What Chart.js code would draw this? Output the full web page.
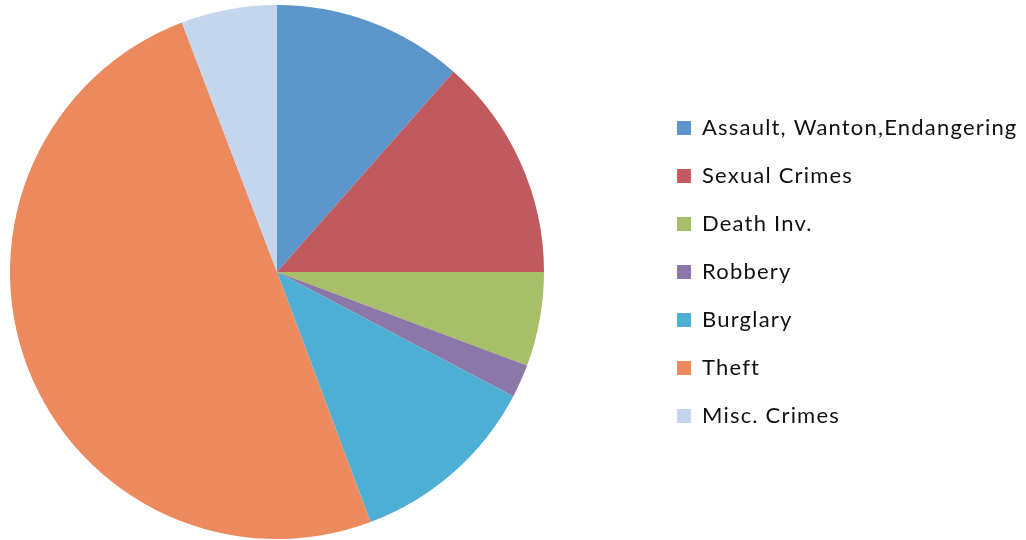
<!DOCTYPE html>
<html>
<head>
<meta charset="utf-8">
<script src="https://cdn.jsdelivr.net/npm/chart.js@4.4.1/dist/chart.umd.min.js"></script>
<style>
  html, body { margin: 0; padding: 0; background: #ffffff; }
  #wrap { width: 1026px; height: 540px; position: relative; }
</style>
</head>
<body>
<div id="wrap"><canvas id="c" width="1026" height="540"></canvas></div>
<script>
const categories = ["Assault, Wanton,Endangering", "Sexual Crimes", "Death Inv.", "Robbery", "Burglary", "Theft", "Misc. Crimes"];
const shares = [11.5, 13.5, 5.7, 2.0, 11.6, 49.9, 5.8];
const sliceColors = ["#5B95CA", "#C05A5F", "#A6BF68", "#8C78A8", "#4DAFD4", "#EC8A5E", "#C3D6EE"];

const legendPlacePlugin = {
  id: 'legendPlace',
  afterInit(chart) {
    const lg = chart.legend;
    if (!lg) return;
    const origFit = lg.fit.bind(lg);
    lg.fit = function () {
      origFit();
      this.width = 472;
    };
  },
  afterLayout(chart) {
    const lg = chart.legend;
    if (!lg) return;
    lg.left = 651;
    lg.right = 1026;
    lg.width = 375;
  },
  beforeDraw(chart) {
    chart.ctx.letterSpacing = '1.2px';
  }
};

new Chart(document.getElementById('c'), {
  type: 'pie',
  data: {
    labels: categories,
    datasets: [{
      data: shares,
      backgroundColor: sliceColors,
      borderWidth: 0
    }]
  },
  options: {
    responsive: false,
    animation: false,
    layout: { padding: { left: 0, right: 0, top: 5, bottom: 1 } },
    plugins: {
      tooltip: { enabled: false },
      legend: {
        position: 'right',
        align: 'center',
        labels: {
          boxWidth: 14,
          boxHeight: 14,
          padding: 26,
          color: '#111111',
          font: { family: 'Lato', size: 22 }
        }
      }
    }
  },
  plugins: [legendPlacePlugin]
});
</script>
</body>
</html>
